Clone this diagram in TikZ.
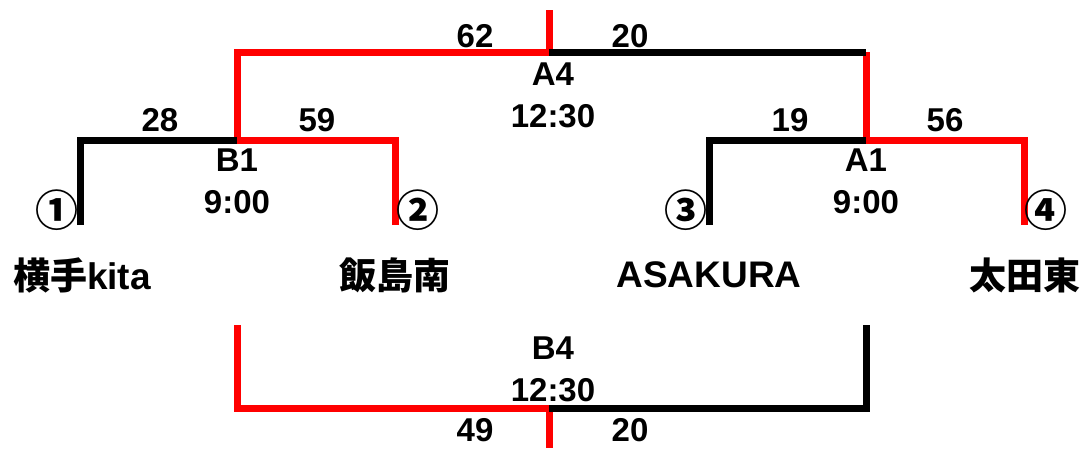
\documentclass[tikz,border=0pt]{standalone}
\usepackage{fontspec}
\setmainfont{Liberation Sans}
\newfontfamily\jpfont{Noto Sans CJK JP}
\definecolor{rr}{RGB}{255, 0, 0}
\tikzset{
  win/.style={line width=7pt, color=rr, line join=miter},
  lose/.style={line width=7pt, color=black, line join=miter},
  score/.style={inner sep=0pt, font=\bfseries\fontsize{33}{33}\selectfont},
  match/.style={inner sep=0pt, align=center, font=\bfseries\fontsize{33}{42}\selectfont},
  seed/.style={inner sep=0pt, font=\jpfont\bfseries\fontsize{43}{43}\selectfont},
  team/.style={inner sep=0pt, font=\bfseries\fontsize{37}{37}\selectfont},
}
\begin{document}
\begin{tikzpicture}
\useasboundingbox (0pt, 0pt) rectangle (1084pt, -448pt);
% bracket points
\coordinate (a4top) at (549pt, -10pt);
\coordinate (a4m) at (549pt, -52pt);
\coordinate (a4lc) at (237pt, -52pt);
\coordinate (a4rc) at (866pt, -52pt);
\coordinate (b1m) at (237pt, -140pt);
\coordinate (b1lc) at (80pt, -140pt);
\coordinate (b1lb) at (80pt, -225pt);
\coordinate (b1rc) at (395pt, -140pt);
\coordinate (b1rb) at (395pt, -225pt);
\coordinate (a1m) at (866pt, -140pt);
\coordinate (a1lc) at (709pt, -140pt);
\coordinate (a1lb) at (709pt, -225pt);
\coordinate (a1rc) at (1024pt, -140pt);
\coordinate (a1rb) at (1024pt, -225pt);
\coordinate (b4lt) at (237pt, -325pt);
\coordinate (b4lc) at (237pt, -408pt);
\coordinate (b4m) at (549pt, -408pt);
\coordinate (b4bot) at (549pt, -448pt);
\coordinate (b4rc) at (866pt, -408pt);
\coordinate (b4rt) at (866pt, -325pt);
% winners
\draw [win] (b1rb) -- (b1rc) -- (b1m) -- (a4lc) -- (a4m) -- (a4top);
\draw [win] (a1rb) -- (a1rc) -- (a1m) -- (a4rc);
\draw [win] (b4lt) -- (b4lc) -- (b4m) -- (b4bot);
% losers
\draw [lose] (b1lb) -- (b1lc) -- (b1m);
\draw [lose] (a1lb) -- (a1lc) -- (a1m);
\draw [lose] (a4m) -- (a4rc);
\draw [lose] (b4m) -- (b4rc) -- (b4rt);
% scores
\node (s62) [score] at (475pt, -36pt) {62};
\node (s20a) [score] at (630pt, -36pt) {20};
\node (s28) [score] at (160pt, -120pt) {28};
\node (s59) [score] at (317pt, -120pt) {59};
\node (s19) [score] at (790pt, -120pt) {19};
\node (s56) [score] at (945pt, -120pt) {56};
\node (s49) [score] at (475pt, -430pt) {49};
\node (s20b) [score] at (630pt, -430pt) {20};
% matches
\node (a4) [match] at (553pt, -95pt) {A4\\12:30};
\node (b1) [match] at (237pt, -181pt) {B1\\9:00};
\node (a1) [match] at (866pt, -181pt) {A1\\9:00};
\node (b4) [match] at (553pt, -369pt) {B4\\12:30};
% seeds
\node (c1) [seed] at (57pt, -210pt) {①};
\node (c2) [seed] at (418pt, -210pt) {②};
\node (c3) [seed] at (686pt, -210pt) {③};
\node (c4) [seed] at (1046pt, -210pt) {④};
% teams
\node (t1) [team] at (82pt, -275pt) {{\jpfont\bfseries 横手}kita};
\node (t2) [team] at (395pt, -275pt) {\jpfont\bfseries 飯島南};
\node (t3) [team] at (709pt, -275pt) {ASAKURA};
\node (t4) [team] at (1025pt, -275pt) {\jpfont\bfseries 太田東};
\end{tikzpicture}
\end{document}
